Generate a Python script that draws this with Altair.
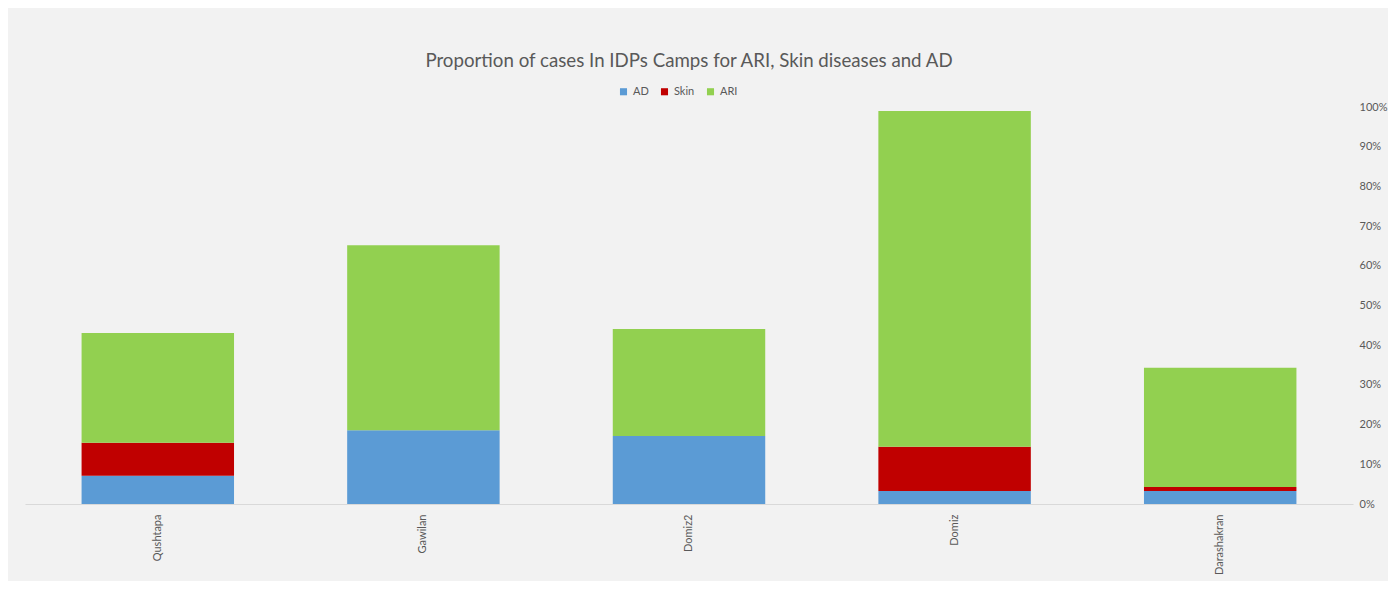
import altair as alt
import pandas as pd

camps = ["Qushtapa", "Gawilan", "Domiz2", "Domiz", "Darashakran"]
series = ["AD", "Skin", "ARI"]
ad = [7.1, 18.6, 17.1, 3.3, 3.3]
skin = [8.3, 0.0, 0.0, 11.1, 1.0]
ari = [27.7, 46.6, 27.0, 84.6, 30.0]
colors = ["#5B9BD5", "#C00000", "#92D050"]
y_ticks = [0, 10, 20, 30, 40, 50, 60, 70, 80, 90, 100]

rows = []
for i, c in enumerate(camps):
    for k, (s, vals) in enumerate(zip(series, [ad, skin, ari])):
        rows.append({"camp": c, "series": s, "value": vals[i], "order": k})
df = pd.DataFrame(rows)

FONT = "Lato"
GREY = "#595959"

chart = alt.Chart(df).mark_bar().encode(
    x=alt.X("camp:N", sort=camps, title=None,
            scale=alt.Scale(paddingInner=0.426, paddingOuter=0.213),
            axis=alt.Axis(labelAngle=-90, labelColor=GREY, labelFontSize=11, labelFont=FONT,
                          ticks=False, domainColor="#D9D9D9", labelPadding=10)),
    y=alt.Y("value:Q", stack="zero", title=None,
            scale=alt.Scale(domain=[0, 100], nice=False),
            axis=alt.Axis(orient="right", values=y_ticks, labelExpr="datum.value + '%'",
                          grid=False, domain=False, ticks=False, labelColor=GREY,
                          labelFontSize=11, labelFont=FONT, labelPadding=6)),
    color=alt.Color("series:N", sort=series,
                    scale=alt.Scale(domain=series, range=colors),
                    legend=alt.Legend(title=None, orient="none", direction="horizontal",
                                      legendX=593, legendY=-21, symbolType="square",
                                      symbolSize=50, symbolStrokeWidth=0,
                                      labelFontSize=11, labelColor=GREY, labelFont=FONT,
                                      columnPadding=10, symbolOffset=0)),
    order=alt.Order("order:Q"),
).properties(
    width=1328,
    height=397,
    title=alt.TitleParams("Proportion of cases In IDPs Camps for ARI, Skin diseases and AD",
                          fontSize=18.7, font=FONT, fontWeight="normal", color=GREY,
                          anchor="middle", offset=15),
    autosize=alt.AutoSizeParams(type="none"),
    padding={"left": 17, "top": 99, "right": 35, "bottom": 77},
).configure(background="#F2F2F2").configure_view(stroke=None)

chart.save("out.html", embed_options={"renderer": "svg", "actions": False})
